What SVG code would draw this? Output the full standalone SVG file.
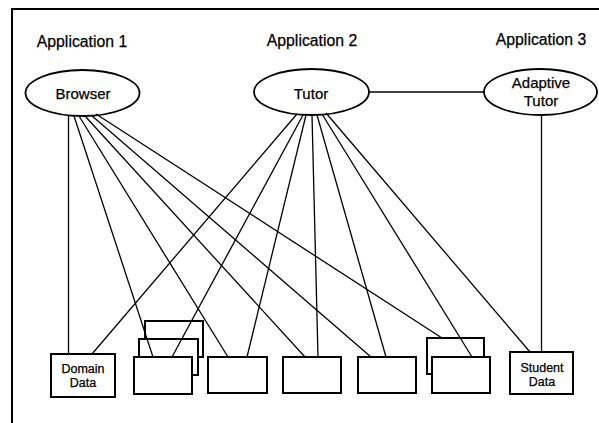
<svg xmlns="http://www.w3.org/2000/svg" width="599" height="423" viewBox="0 0 599 423">
<style>
.frame{stroke:#000;stroke-width:2;fill:none}
.ell{fill:#fff;stroke:#000;stroke-width:1.8}
.box{fill:#fff;stroke:#000;stroke-width:2}
.ln{stroke:#000;stroke-width:1.3;fill:none}
.t{font-family:"Liberation Sans",Arial,sans-serif;fill:#000;text-anchor:middle;stroke:#000;stroke-width:0.25}
.lbl{font-size:15.8px}
.nl{font-size:15px}
.bl{font-size:12.5px}
</style>
<rect width="599" height="423" fill="#fff"/>
<path class="frame" d="M12,423 V9 H599"/>
<g id="labels">
<text class="t lbl" x="82" y="47">Application 1</text>
<text class="t lbl" x="312" y="46">Application 2</text>
<text class="t lbl" x="541" y="45">Application 3</text>
</g>
<g id="browser"><ellipse class="ell" cx="82.5" cy="93" rx="57" ry="23"/><text class="t nl" x="83" y="99">Browser</text></g>
<g id="tutor"><ellipse class="ell" cx="311.5" cy="92" rx="57.5" ry="23"/><text class="t nl" x="311" y="99">Tutor</text></g>
<g id="adaptive"><ellipse class="ell" cx="540.5" cy="92" rx="56.5" ry="23"/><text class="t nl" x="541" y="88">Adaptive</text><text class="t nl" x="541" y="106">Tutor</text></g>
<g id="domain"><rect class="box" x="51" y="354" width="64" height="43"/><text class="t bl" x="83" y="373">Domain</text><text class="t bl" x="83" y="387">Data</text></g>
<g id="stack1"><rect class="box" x="145" y="321" width="58" height="36"/><rect class="box" x="139" y="339" width="59" height="36"/><rect class="box" x="134" y="357" width="58" height="37"/></g>
<g id="box2"><rect class="box" x="208" y="357" width="59" height="36"/></g>
<g id="box3"><rect class="box" x="283" y="357" width="58" height="36"/></g>
<g id="box4"><rect class="box" x="358" y="357" width="58" height="36"/></g>
<g id="stack2"><rect class="box" x="427" y="338" width="57" height="36"/><rect class="box" x="432" y="357" width="58" height="36"/></g>
<g id="student"><rect class="box" x="510" y="352" width="63" height="42"/><text class="t bl" x="542" y="372">Student</text><text class="t bl" x="542" y="386">Data</text></g>
<g id="connectors">
<line class="ln" x1="369" y1="92" x2="484" y2="92"/>
<line class="ln" x1="68.5" y1="116" x2="68.5" y2="354"/>
<line class="ln" x1="74" y1="116" x2="153" y2="357"/>
<line class="ln" x1="79" y1="116" x2="228" y2="357"/>
<line class="ln" x1="85" y1="116" x2="305" y2="357"/>
<line class="ln" x1="91" y1="115" x2="371" y2="357"/>
<line class="ln" x1="96" y1="114" x2="442" y2="338"/>
<line class="ln" x1="297" y1="114" x2="92" y2="354"/>
<line class="ln" x1="303" y1="115" x2="172" y2="357"/>
<line class="ln" x1="306" y1="115" x2="247" y2="357"/>
<line class="ln" x1="312" y1="115" x2="318" y2="357"/>
<line class="ln" x1="317" y1="115" x2="386" y2="357"/>
<line class="ln" x1="322" y1="114" x2="472" y2="357"/>
<line class="ln" x1="326" y1="113" x2="530" y2="352"/>
<line class="ln" x1="541.5" y1="115" x2="541.5" y2="352"/>
</g>
</svg>
